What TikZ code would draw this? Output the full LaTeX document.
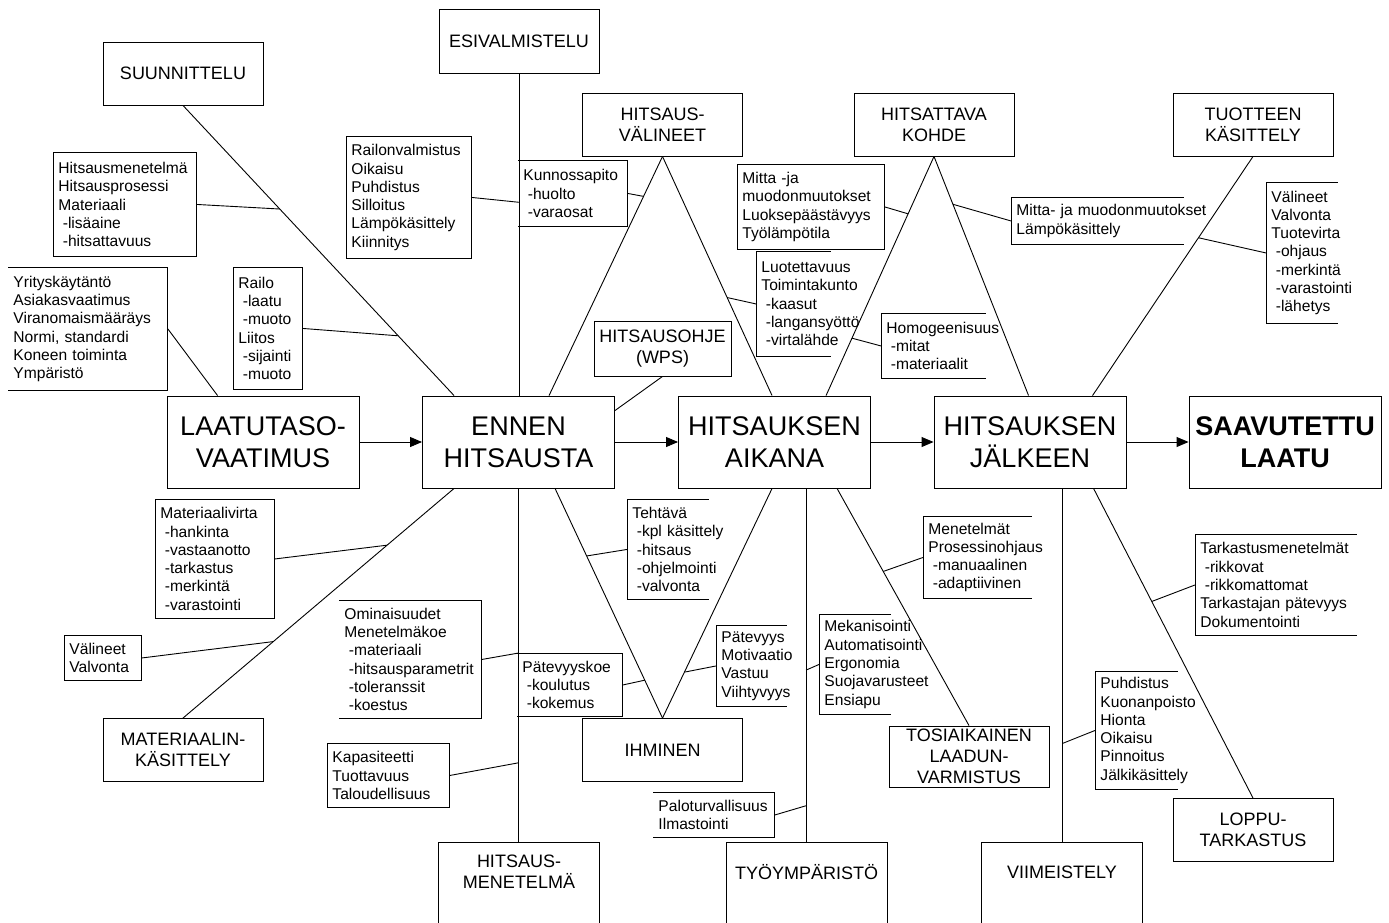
\documentclass[tikz,border=0pt]{standalone}
\usepackage{fontspec}
\setmainfont{Liberation Sans}
\usetikzlibrary{calc,arrows.meta}

% keep every note line in one piece
\hyphenpenalty=10000
\exhyphenpenalty=10000
% small indent for sub-items inside the note boxes
\newcommand\indt{\hspace*{0.28em}}
% note boxes drawn with one open side
\newcommand\openleft[1]{\draw (#1.north west) -- (#1.north east) -- (#1.south east) -- (#1.south west);}
\newcommand\openright[1]{\draw (#1.north east) -- (#1.north west) -- (#1.south west) -- (#1.south east);}

\begin{document}
\begin{tikzpicture}[x=1pt,y=-1pt,line width=0.9pt,
  mainbox/.style={draw, minimum width=192pt, minimum height=92pt, inner sep=0pt,
    align=center, font=\fontsize{27}{32}\selectfont},
  catbox/.style={draw, minimum width=160pt, minimum height=63pt, inner sep=0pt,
    align=center, font=\fontsize{18}{21}\selectfont},
  note/.style 2 args={anchor=north west, inner xsep=5pt, inner ysep=0pt,
    text width=#1, minimum height=#2, align=left,
    font=\fontsize{15.6}{18.3}\selectfont},
  flow/.style={-{Triangle[length=12pt,width=10pt]}}
]
\useasboundingbox (0,0) rectangle (1389,922);
\clip (0,0) rectangle (1389,922);
\coordinate (bot) at (0,935);

% ---- main process chain ----
\node[mainbox] (laat)  at (263,442)    {LAATUTASO-\\VAATIMUS};
\node[mainbox] (ennen) at (518.5,442)  {ENNEN\\HITSAUSTA};
\node[mainbox] (aik)   at (774.5,442)  {HITSAUKSEN\\AIKANA};
\node[mainbox] (jalk)  at (1030,442)   {HITSAUKSEN\\JÄLKEEN};
\node[mainbox, font=\fontsize{27}{32}\selectfont\bfseries] (saav) at (1285,442) {SAAVUTETTU\\LAATU};
\draw[flow] (laat.east) -- (ennen.west);
\draw[flow] (ennen.east) -- (aik.west);
\draw[flow] (aik.east) -- (jalk.west);
\draw[flow] (jalk.east) -- (saav.west);

% ---- cause categories ----
\node[catbox] (suun)  at (183,73.5)   {SUUNNITTELU};
\node[catbox, minimum height=64pt] (esiv) at (519,41) {ESIVALMISTELU};
\node[catbox] (hval)  at (662.5,124.5) {HITSAUS-\\VÄLINEET};
\node[catbox] (kohde) at (934,124.5)  {HITSATTAVA\\KOHDE};
\node[catbox] (tuote) at (1253,124.5) {TUOTTEEN\\KÄSITTELY};
\node[catbox, minimum width=137pt, minimum height=55pt] (ohje) at (662.5,348.5) {HITSAUSOHJE\\(WPS)};
\node[catbox] (matk)  at (183,750)    {MATERIAALIN-\\KÄSITTELY};
\node[catbox] (ihm)   at (662.5,750)  {IHMINEN};
\node[catbox, minimum height=61pt] (tosi) at (969,756.5) {TOSIAIKAINEN\\LAADUN-\\VARMISTUS};
\node[catbox] (lopp)  at (1253,830)   {LOPPU-\\TARKASTUS};
\node[catbox, draw=none, minimum height=58pt] (hmen) at (519,872)   {HITSAUS-\\MENETELMÄ};
\node[catbox, draw=none, minimum height=58pt] (tyo)  at (806.5,872) {TYÖYMPÄRISTÖ};
\node[catbox, draw=none, minimum height=58pt] (viim) at (1062,872)  {VIIMEISTELY};
\foreach \n in {hmen,tyo,viim}
  \draw (\n.north west |- bot) -- (\n.north west) -- (\n.north east) -- (\n.north east |- bot);

% ---- spines ----
\coordinate (s1a) at (suun.south);
\coordinate (s1b) at ($(ennen.north west)+(32,0)$);
\coordinate (s3a) at (esiv.south);
\coordinate (s3b) at (s3a |- ennen.north);
\coordinate (s4a) at ($(ennen.south west)+(96,0)$);
\coordinate (s4b) at (s4a |- hmen.north);
\coordinate (s5a) at (hval.south);
\coordinate (s5b) at ($(ennen.north west)+(127,0)$);
\coordinate (s6b) at ($(aik.north west)+(94,0)$);
\coordinate (s8a) at (kohde.south);
\coordinate (s8b) at ($(aik.north west)+(148,0)$);
\coordinate (s9b) at ($(jalk.north west)+(95,0)$);
\coordinate (s10a) at (tuote.south);
\coordinate (s10b) at ($(jalk.north west)+(159,0)$);
\coordinate (s11a) at ($(ennen.south west)+(32,0)$);
\coordinate (s11b) at (matk.north);
\coordinate (s12a) at ($(ennen.south west)+(133,0)$);
\coordinate (s12b) at (ihm.north);
\coordinate (s13a) at ($(aik.south west)+(94,0)$);
\coordinate (s14a) at ($(aik.south west)+(128,0)$);
\coordinate (s14b) at (s14a |- tyo.north);
\coordinate (s15a) at ($(aik.south west)+(159,0)$);
\coordinate (s15b) at (tosi.north);
\coordinate (s16a) at ($(jalk.south west)+(129,0)$);
\coordinate (s16b) at (s16a |- viim.north);
\coordinate (s17a) at ($(jalk.south west)+(160,0)$);
\coordinate (s17b) at (lopp.north);

\draw (s1a) -- (s1b);
\draw (s3a) -- (s3b);
\draw (s4a) -- (s4b);
\draw (s5a) -- (s5b);
\draw (s5a) -- (s6b);
\draw (ohje.south) -- ($(ennen.north east)+(0,15)$);
\draw (s8a) -- (s8b);
\draw (s8a) -- (s9b);
\draw (s10a) -- (s10b);
\draw (s11a) -- (s11b);
\draw (s12a) -- (s12b);
\draw (s13a) -- (s12b);
\draw (s14a) -- (s14b);
\draw (s15a) -- (s15b);
\draw (s16a) -- (s16b);
\draw (s17a) -- (s17b);

% ---- detail notes ----
\node[note={133pt}{104pt}, draw] (hmtxt) at (53,152)
  {Hitsausmenetelmä\\Hitsausprosessi\\Materiaali\\\indt-lisäaine\\\indt-hitsattavuus};
\node[note={59pt}{122pt}, draw] (railo) at (233,267)
  {Railo\\\indt-laatu\\\indt-muoto\\Liitos\\\indt-sijainti\\\indt-muoto};
\node[note={149pt}{123pt}] (yrit) at (8,267)
  {Yrityskäytäntö\\Asiakasvaatimus\\Viranomaismääräys\\Normi,~standardi\\Koneen~toiminta\\Ympäristö};
\openleft{yrit}
\node[note={115pt}{122pt}, draw] (railonv) at (346,136)
  {Railonvalmistus\\Oikaisu\\Puhdistus\\Silloitus\\Lämpökäsittely\\Kiinnitys};
\node[note={99pt}{66pt}] (kunn) at (518,160)
  {Kunnossapito\\\indt-huolto\\\indt-varaosat};
\openleft{kunn}
\node[note={137pt}{85pt}, draw] (mittaja) at (737,164)
  {Mitta~-ja\\muodonmuutokset\\Luoksepäästävyys\\Työlämpötila};
\node[note={64pt}{105pt}] (luot) at (756,251)
  {Luotettavuus\\Toimintakunto\\\indt-kaasut\\\indt-langansyöttö\\\indt-virtalähde};
\openright{luot}
\node[note={94pt}{65pt}] (homog) at (881,313)
  {Homogeenisuus\\\indt-mitat\\\indt-materiaalit};
\openright{homog}
\node[note={162pt}{47pt}] (mittam) at (1011,197)
  {Mitta-~ja~muodonmuutokset\\Lämpökäsittely};
\openright{mittam}
\node[note={61pt}{141pt}] (tuotev) at (1266,182)
  {Välineet\\Valvonta\\Tuotevirta\\\indt-ohjaus\\\indt-merkintä\\\indt-varastointi\\\indt-lähetys};
\openright{tuotev}
\node[note={109pt}{119pt}, draw] (matv) at (155,499)
  {Materiaalivirta\\\indt-hankinta\\\indt-vastaanotto\\\indt-tarkastus\\\indt-merkintä\\\indt-varastointi};
\node[note={67pt}{45pt}, draw] (valv) at (64,635)
  {Välineet\\Valvonta};
\node[note={132pt}{118pt}] (omin) at (339,600)
  {Ominaisuudet\\Menetelmäkoe\\\indt-materiaali\\\indt-hitsausparametrit\\\indt-toleranssit\\\indt-koestus};
\openleft{omin}
\node[note={112pt}{64pt}, draw] (kapas) at (327,743)
  {Kapasiteetti\\Tuottavuus\\Taloudellisuus};
\node[note={71pt}{100pt}] (teht) at (627,499)
  {Tehtävä\\\indt-kpl~käsittely\\\indt-hitsaus\\\indt-ohjelmointi\\\indt-valvonta};
\openright{teht}
\node[note={95pt}{63pt}] (patk) at (517,653)
  {Pätevyyskoe\\\indt-koulutus\\\indt-kokemus};
\openleft{patk}
\node[note={60pt}{81pt}] (patev) at (716,625)
  {Pätevyys\\Motivaatio\\Vastuu\\Viihtyvyys};
\openright{patev}
\node[note={61pt}{100pt}] (mekan) at (819,614)
  {Mekanisointi\\Automatisointi\\Ergonomia\\Suojavarusteet\\Ensiapu};
\openright{mekan}
\node[note={111pt}{45pt}] (palo) at (653,792)
  {Paloturvallisuus\\Ilmastointi};
\openleft{palo}
\node[note={98pt}{82pt}] (menet) at (923,516)
  {Menetelmät\\Prosessinohjaus\\\indt-manuaalinen\\\indt-adaptiivinen};
\openright{menet}
\node[note={151pt}{101pt}] (tarkm) at (1195,534)
  {Tarkastusmenetelmät\\\indt-rikkovat\\\indt-rikkomattomat\\Tarkastajan~pätevyys\\Dokumentointi};
\openright{tarkm}
\node[note={72pt}{118pt}] (puhd) at (1095,671)
  {Puhdistus\\Kuonanpoisto\\Hionta\\Oikaisu\\Pinnoitus\\Jälkikäsittely};
\openright{puhd}

% ---- branches from notes to spines ----
\draw (hmtxt.east)  -- ($(s1a)!0.357!(s1b)$);
\draw (railo.east)  -- ($(s1a)!0.794!(s1b)$);
\draw (yrit.east)   -- ($(laat.north west)+(51,0)$);
\draw (railonv.east) -- ($(s3a)!0.40!(s3b)$);
\draw (kunn.east)   -- ($(s5a)!0.167!(s5b)$);
\draw (mittaja.east) -- ($(s8a)!0.24!(s8b)$);
\draw (luot.west)   -- ($(s5a)!0.59!(s6b)$);
\draw (homog.west)  -- ($(s8a)!0.76!(s8b)$);
\draw (mittam.west) -- ($(s8a)!0.20!(s9b)$);
\draw (tuotev.west) -- ($(s10a)!0.34!(s10b)$);
\draw (matv.east)   -- ($(s11a)!0.247!(s11b)$);
\draw (valv.east)   -- ($(s11a)!0.667!(s11b)$);
\draw (omin.east)   -- ($(s4a)!0.465!(s4b)$);
\draw (kapas.east)  -- ($(s4a)!0.775!(s4b)$);
\draw (teht.west)   -- ($(s12a)!0.294!(s12b)$);
\draw (patk.east)   -- ($(s12a)!0.835!(s12b)$);
\draw (patev.west)  -- ($(s13a)!0.80!(s12b)$);
\draw (mekan.west)  -- ($(s14a)!0.513!(s14b)$);
\draw (palo.east)   -- ($(s14a)!0.896!(s14b)$);
\draw (menet.west)  -- ($(s15a)!0.35!(s15b)$);
\draw (tarkm.west)  -- ($(s17a)!0.365!(s17b)$);
\draw (puhd.west)   -- ($(s16a)!0.72!(s16b)$);
\end{tikzpicture}
\end{document}
